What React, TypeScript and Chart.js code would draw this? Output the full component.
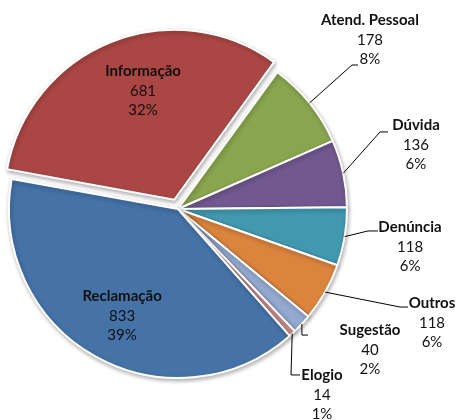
import React, { useEffect, useRef } from "react";
import { Chart, registerables } from "chart.js";

Chart.register(...registerables);

// ---- data ----
const categories = ["Atend. Pessoal", "Dúvida", "Denúncia", "Outros", "Sugestão", "Elogio", "Reclamação", "Informação"];
const values = [178, 136, 118, 118, 40, 14, 833, 681];
const colors = ["#89A54E", "#71588F", "#4198AF", "#DB843D", "#93A9CF", "#D09391", "#4572A7", "#AA4643"];
const explodeOffsets = [0, 0, 0, 0, 0, 0, 0, 40];

// ---- label layout (multiples of the pie radius, relative to the pie centre) ----
type LabelSpec = { text: [number, number]; end?: [number, number]; elbow?: number };
const labelLayout: LabelSpec[] = [
  { text: [1.136, -1.0], end: [1.065, -0.852], elbow: 6 },
  { text: [1.408, -0.379], end: [1.243, -0.456], elbow: 8 },
  { text: [1.373, 0.225], end: [1.183, 0.13], elbow: 10 },
  { text: [1.503, 0.675], end: [1.361, 0.58], elbow: 8 },
  { text: [1.136, 0.834], end: [0.769, 0.746], elbow: 6 },
  { text: [0.852, 1.101], end: [0.722, 0.982], elbow: 9 },
  { text: [-0.331, 0.633] },
  { text: [-0.207, -0.698] },
];

const FONT = "Lato, 'Open Sans', sans-serif";
const FONT_SIZE = 15;
const LINE_H = 19.5;

const shadowPlugin = {
  id: "pieShadow",
  beforeDatasetsDraw(chart: any) {
    const ctx = chart.ctx;
    ctx.save();
    ctx.shadowColor = "rgba(0,0,0,0.30)";
    ctx.shadowBlur = 4;
    ctx.shadowOffsetX = 1;
    ctx.shadowOffsetY = 2;
  },
  afterDatasetsDraw(chart: any) {
    chart.ctx.restore();
  },
};

const labelPlugin = {
  id: "pieLabels",
  afterDraw(chart: any) {
    const ctx = chart.ctx as CanvasRenderingContext2D;
    const meta = chart.getDatasetMeta(0);
    const total = values.reduce((a, b) => a + b, 0);
    ctx.save();
    meta.data.forEach((arc: any, i: number) => {
      const spec = labelLayout[i];
      const { x, y, startAngle, endAngle, outerRadius } = arc.getProps(
        ["x", "y", "startAngle", "endAngle", "outerRadius"],
        true
      );
      const R = outerRadius;
      const tx = x + spec.text[0] * R;
      const ty = y + spec.text[1] * R;
      if (spec.end) {
        const mid = (startAngle + endAngle) / 2;
        const sx = x + Math.cos(mid) * R;
        const sy = y + Math.sin(mid) * R;
        const ex = x + spec.end[0] * R;
        const ey = y + spec.end[1] * R;
        ctx.beginPath();
        ctx.strokeStyle = "#000";
        ctx.lineWidth = 1;
        ctx.moveTo(sx, sy);
        ctx.lineTo(ex - (spec.elbow || 0), ey);
        ctx.lineTo(ex, ey);
        ctx.stroke();
      }
      const pct = Math.round((values[i] / total) * 100) + "%";
      const lines = [categories[i], String(values[i]), pct];
      ctx.fillStyle = "#111";
      ctx.textAlign = "center";
      ctx.textBaseline = "middle";
      lines.forEach((t, k) => {
        ctx.font = (k === 0 ? "bold " : "") + FONT_SIZE + "px " + FONT;
        ctx.fillText(t, tx, ty + (k - 1) * LINE_H);
      });
    });
    ctx.restore();
  },
};

export default function App() {
  const ref = useRef<HTMLCanvasElement | null>(null);
  useEffect(() => {
    document.body.style.margin = "0";
    const canvas = ref.current!;
    const chart = new Chart(canvas, {
      type: "pie",
      data: {
        labels: categories,
        datasets: [
          {
            data: values,
            backgroundColor: colors,
            borderColor: "#ffffff",
            borderWidth: 2,
            offset: explodeOffsets,
          },
        ],
      },
      options: {
        responsive: false,
        animation: false,
        rotation: 36,
        radius: 169,
        layout: { padding: { left: 0, right: 102, top: 0, bottom: 2 } },
        plugins: {
          legend: { display: false },
          tooltip: { enabled: false },
        },
      } as any,
      plugins: [shadowPlugin, labelPlugin],
    });
    return () => chart.destroy();
  }, []);
  return (
    <div style={{ width: 458, height: 420, background: "#fff" }}>
      <canvas ref={ref} width={458} height={420} style={{ display: "block" }} />
    </div>
  );
}
